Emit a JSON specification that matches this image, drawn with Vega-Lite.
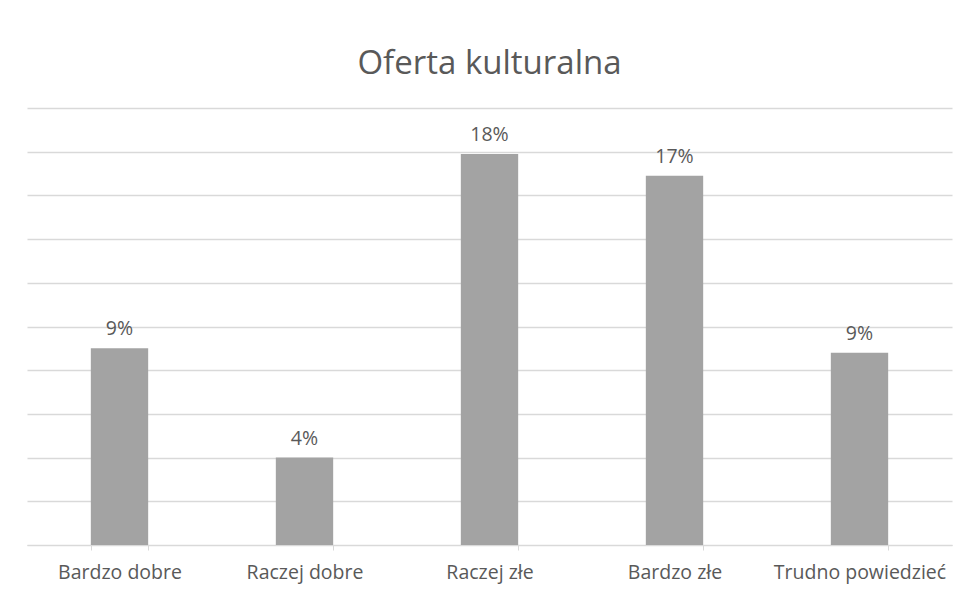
{
  "$schema": "https://vega.github.io/schema/vega-lite/v6.json",
  "width": 925,
  "height": 437,
  "autosize": {"type": "none"},
  "padding": {"left": 27, "top": 108, "right": 10, "bottom": 48},
  "background": "white",
  "title": {
    "text": "Oferta kulturalna",
    "fontSize": 33,
    "font": "Open Sans",
    "fontWeight": "normal",
    "color": "#595959",
    "anchor": "middle",
    "offset": 27
  },
  "data": {
    "values": [
      {"kategoria": "Bardzo dobre", "wartosc": 0.09},
      {"kategoria": "Raczej dobre", "wartosc": 0.04},
      {"kategoria": "Raczej złe", "wartosc": 0.179},
      {"kategoria": "Bardzo złe", "wartosc": 0.169},
      {"kategoria": "Trudno powiedzieć", "wartosc": 0.088}
    ]
  },
  "encoding": {
    "x": {
      "field": "kategoria",
      "type": "nominal",
      "sort": null,
      "scale": {"paddingInner": 0.69, "paddingOuter": 0.345},
      "axis": {
        "title": null,
        "labelAngle": 0,
        "labelFont": "Open Sans",
        "labelFontSize": 19.5,
        "labelColor": "#595959",
        "labelPadding": 13,
        "domainColor": "#d9d9d9",
        "tickColor": "#d9d9d9",
        "tickBand": "extent",
        "tickSize": 5,
        "grid": false
      }
    },
    "y": {
      "field": "wartosc",
      "type": "quantitative",
      "scale": {"domain": [0, 0.2], "nice": false},
      "axis": {
        "title": null,
        "labels": false,
        "ticks": false,
        "domain": false,
        "values": [0, 0.02, 0.04, 0.06, 0.08, 0.1, 0.12, 0.14, 0.16, 0.18, 0.2],
        "gridColor": "#d9d9d9",
        "gridWidth": 1.5
      }
    }
  },
  "layer": [
    {"mark": {"type": "bar", "color": "#a3a3a3"}},
    {
      "mark": {
        "type": "text",
        "baseline": "bottom",
        "dy": -9,
        "font": "Open Sans",
        "fontSize": 19.5,
        "color": "#595959"
      },
      "encoding": {"text": {"field": "wartosc", "type": "quantitative", "format": ".0%"}}
    }
  ],
  "config": {"view": {"stroke": null}}
}
